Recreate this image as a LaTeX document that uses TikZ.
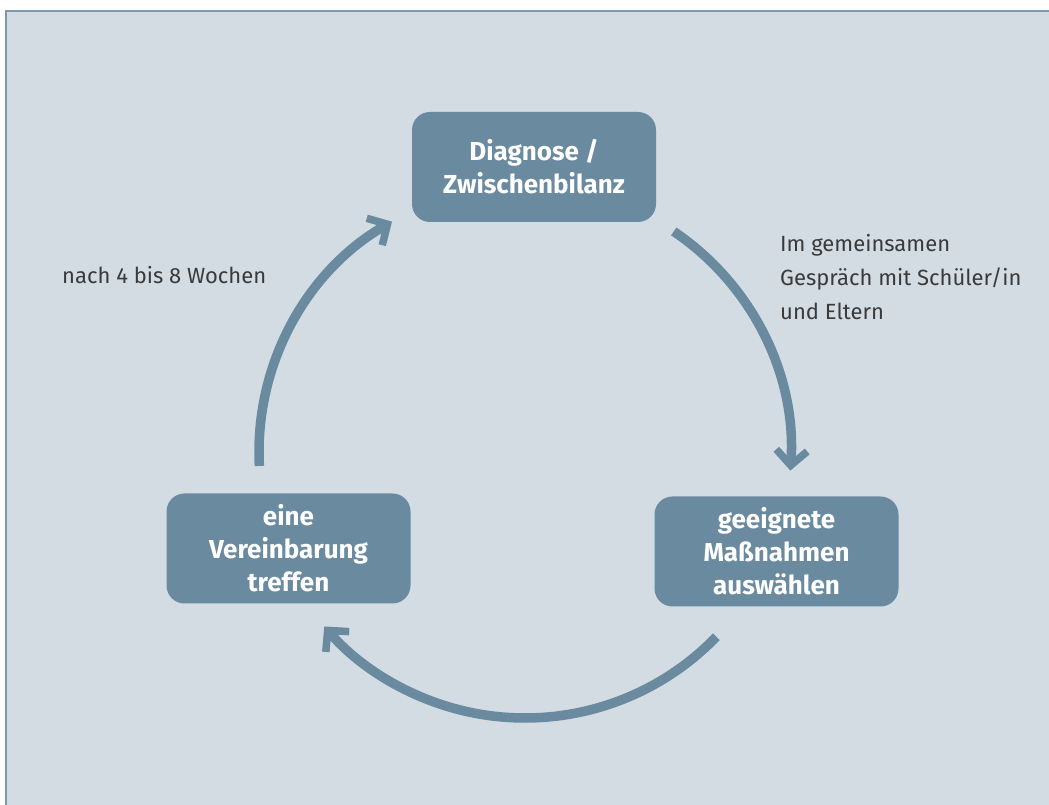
\documentclass[tikz,border=0pt]{standalone}
\usepackage{fontspec}
\setmainfont{Fira Sans}
\usetikzlibrary{arrows.meta}

\definecolor{steel}{HTML}{6A8AA0}
\definecolor{paper}{HTML}{D3DCE3}
\definecolor{rim}{HTML}{7F98AB}
\definecolor{ink}{HTML}{3A3A3A}

\tikzset{
  phase/.style={fill=steel, rounded corners=18pt, minimum width=244pt,
    minimum height=110pt, inner sep=0pt, text=white, align=center,
    font=\bfseries\fontsize{26}{33}\selectfont},
  remark/.style={text=ink, align=left, inner sep=0pt,
    font=\fontsize{22}{34}\selectfont},
  loopline/.style={draw=steel, line width=9.5pt,
    -{Straight Barb[length=15pt, width=31pt, line width=7.5pt, sharp]}}
}

\begin{document}
\begin{tikzpicture}[x=1pt, y=1pt]

  \useasboundingbox (0,0) rectangle (1049,805);
  % background panel
  \fill[paper] (6,794) rectangle (1049,0);
  \draw[rim, line width=1.5pt] (1049,794) -- (6,794) -- (6,0);

  \node[phase] (diag) at (534,638) {Diagnose /\\Zwischenbilanz};
  \node[phase] (measures) at (776.5,253.5) {geeignete\\Maßnahmen\\auswählen};
  \node[phase] (agree) at (288.5,256.5) {eine\\Vereinbarung\\treffen};

  \node[remark, anchor=west] (wait) at (62,530) {nach 4 bis 8 Wochen};
  \node[remark, anchor=west] (talk) at (780,528)
    {Im gemeinsamen\\Gespräch mit Schüler/in\\und Eltern};

  % the cycle
  \coordinate (hub) at (525,353);
  \draw[loopline] ([shift={(hub)}]56:266) arc[start angle=56, end angle=-4, radius=266];
  \draw[loopline] ([shift={(hub)}]-44:266) arc[start angle=-44, end angle=-139, radius=266];
  \draw[loopline] ([shift={(hub)}]183:266) arc[start angle=183, end angle=120, radius=266];

\end{tikzpicture}
\end{document}
